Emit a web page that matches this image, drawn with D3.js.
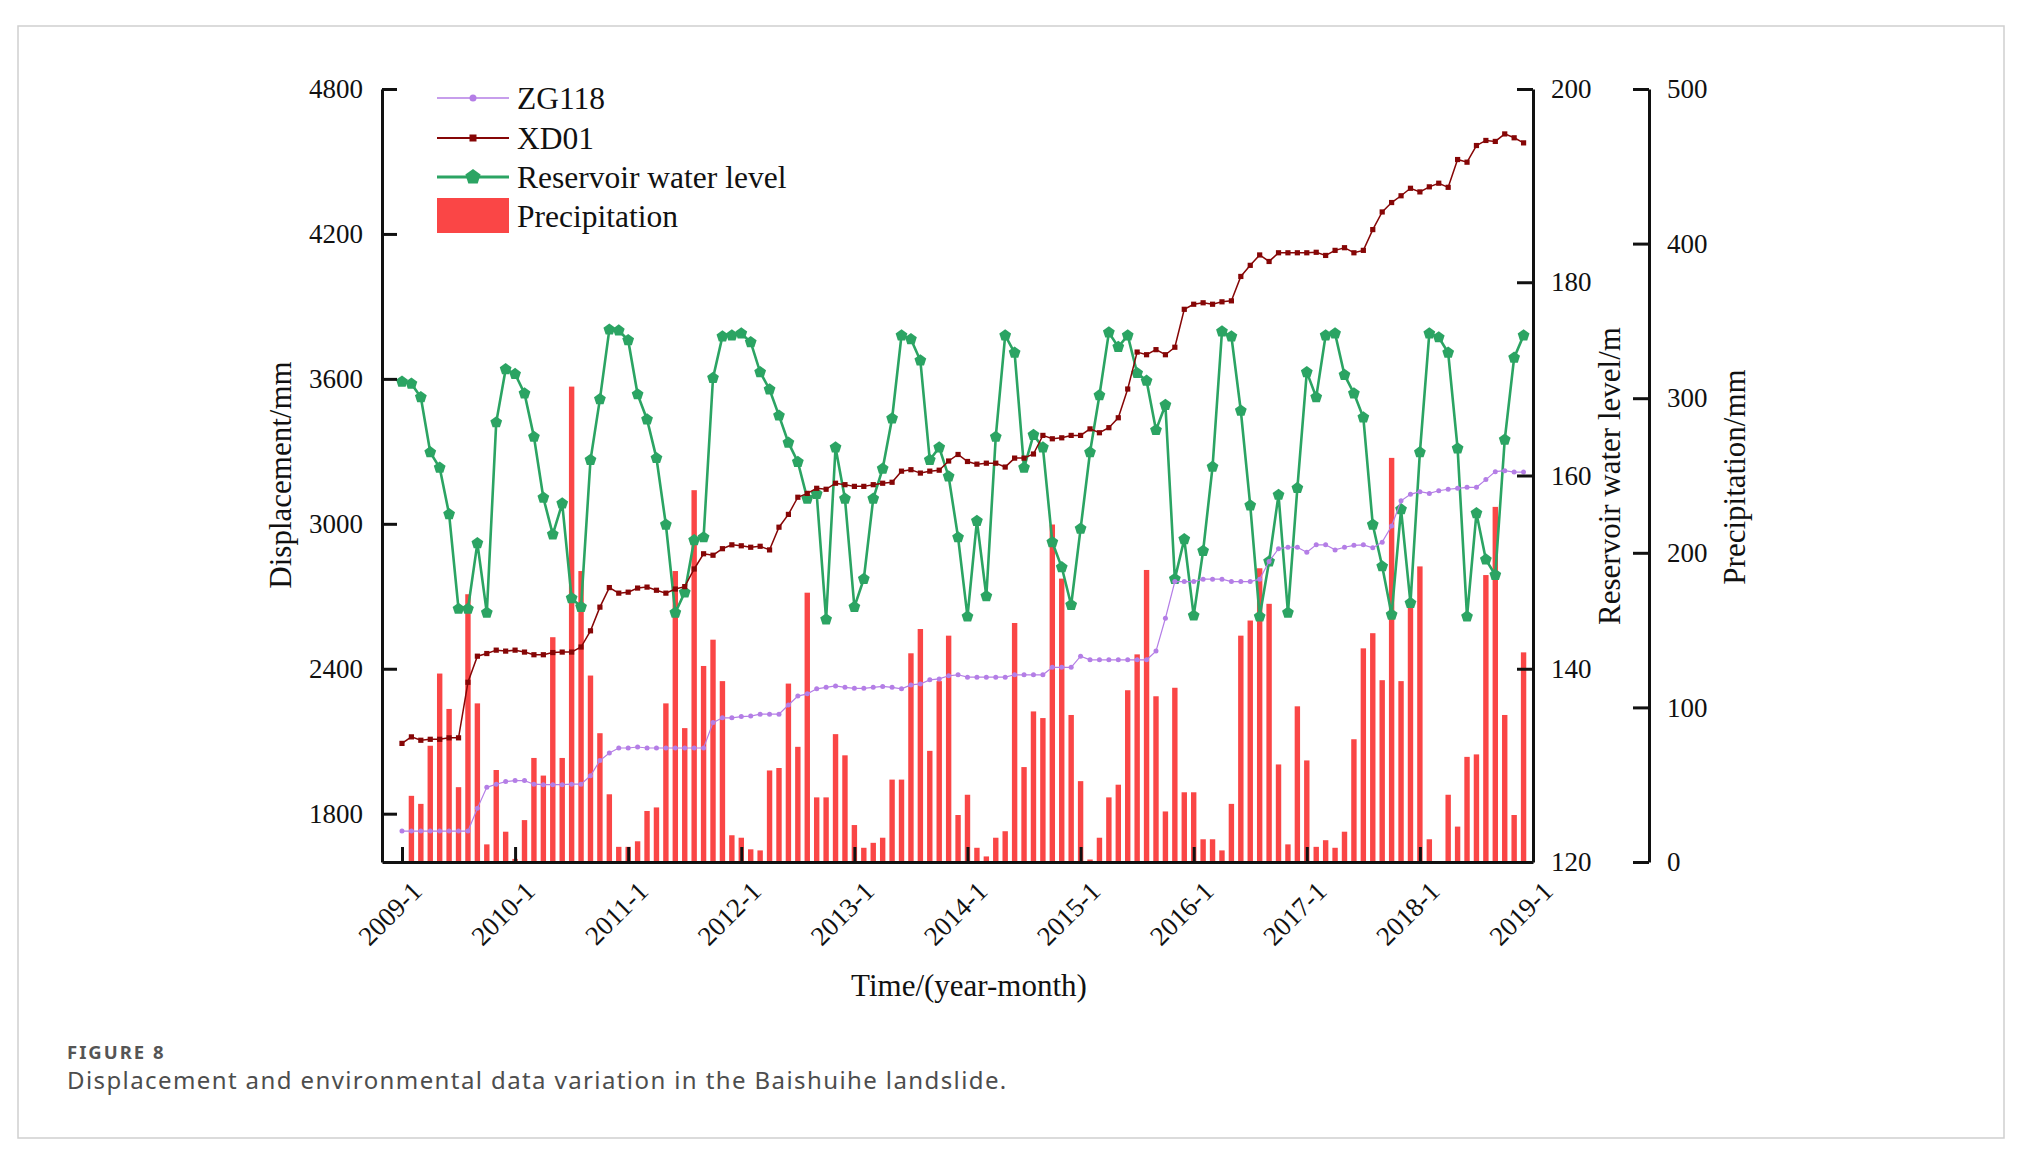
<!DOCTYPE html>
<html>
<head>
<meta charset="utf-8">
<script src="https://d3js.org/d3.v7.min.js"></script>
<style>
  body { margin: 0; background: #fff; }
  svg text { font-family: "Liberation Serif", "Times New Roman", serif; fill: #111; }
  svg .cap { font-family: "Noto Sans", "Open Sans", sans-serif; }
</style>
</head>
<body>
<svg width="2038" height="1166"></svg>
<script>
// month index 0 = 2009-1 ... 119 = 2018-12
var xTickValues = [0, 12, 24, 36, 48, 60, 72, 84, 96, 108, 120];
var xTickLabels = ["2009-1", "2010-1", "2011-1", "2012-1", "2013-1", "2014-1",
                   "2015-1", "2016-1", "2017-1", "2018-1", "2019-1"];
var dispTicks = [1800, 2400, 3000, 3600, 4200, 4800];
var levelTicks = [120, 140, 160, 180, 200];
var precTicks = [0, 100, 200, 300, 400, 500];
var legendNames = ["ZG118", "XD01", "Reservoir water level", "Precipitation"];

var zg118 = [1728,1728,1728,1728,1728,1728,1728,1728,1822,1909,1922,1933,1937,1937,1922,1920,1920,1920,1922,1922,
             1957,2020,2051,2072,2072,2076,2072,2072,2072,2072,2072,2072,2072,2177,2197,2197,2202,2204,2212,2212,
             2212,2250,2287,2296,2317,2323,2329,2323,2319,2319,2323,2327,2323,2317,2333,2337,2354,2358,2371,2375,
             2365,2365,2365,2365,2365,2375,2375,2375,2375,2406,2406,2406,2452,2437,2437,2437,2437,2437,2437,2437,
             2473,2609,2761,2761,2761,2771,2771,2771,2761,2761,2761,2771,2844,2897,2903,2903,2882,2913,2913,2892,
             2903,2911,2913,2901,2924,2991,3095,3122,3133,3126,3137,3143,3147,3151,3151,3183,3216,3220,3214,3214];

var xd01 = [2091,2118,2104,2108,2108,2114,2114,2344,2452,2463,2477,2473,2477,2469,2458,2458,2467,2469,2469,2490,
            2557,2655,2736,2713,2717,2734,2738,2725,2713,2730,2740,2813,2876,2870,2897,2913,2909,2903,2907,2892,
            2986,3039,3110,3126,3147,3143,3168,3162,3155,3155,3162,3168,3172,3218,3224,3210,3218,3222,3260,3287,
            3258,3247,3251,3251,3235,3272,3272,3289,3366,3352,3356,3366,3366,3393,3377,3398,3439,3558,3711,3700,
            3721,3700,3731,3888,3909,3915,3909,3919,3923,4024,4070,4113,4086,4122,4122,4122,4122,4124,4111,4132,
            4143,4122,4132,4218,4291,4330,4358,4389,4374,4395,4410,4393,4508,4497,4566,4587,4583,4614,4598,4577];

var waterLevel = [169.7,169.5,168.1,162.4,160.8,156.0,146.2,146.2,153.0,145.8,165.5,171.0,170.5,168.5,164.0,157.7,153.9,157.1,147.3,146.4,
                  161.6,167.9,175.1,175.0,174.0,168.4,165.8,161.8,154.9,145.8,147.9,153.3,153.6,170.1,174.4,174.5,174.7,173.8,170.7,168.9,
                  166.2,163.4,161.4,157.6,158.1,145.1,162.9,157.6,146.4,149.3,157.6,160.7,165.9,174.5,174.1,171.9,161.6,162.9,159.9,153.6,
                  145.4,155.3,147.5,164.0,174.5,172.7,160.8,164.2,162.9,153.1,150.5,146.6,154.5,162.4,168.3,174.8,173.3,174.5,170.6,169.8,
                  164.7,167.3,149.3,153.4,145.5,152.2,160.9,174.9,174.4,166.7,156.9,145.4,151.1,158.0,145.8,158.7,170.7,168.1,174.5,174.7,
                  170.4,168.5,166.0,154.9,150.6,145.6,156.5,146.8,162.4,174.7,174.3,172.7,162.8,145.4,156.1,151.3,149.7,163.7,172.2,174.5];

var precipitation = [0,42.8,37.6,75.2,121.9,99.0,48.4,173.2,102.6,11.4,59.5,19.6,2,27.1,67.3,55.9,145.4,67.3,307.5,188.2,
                     120.6,83.3,43.8,9.8,9.8,13.4,33.0,35.3,102.6,188.2,86.6,240.5,126.8,143.8,117.0,17.3,15.7,8.2,7.5,59.2,
                     60.8,115.4,74.5,174.2,41.8,41.8,82.7,69.0,23.9,9.2,12.4,15.7,53.3,53.3,135.0,150.7,71.9,117.0,146.4,30.4,
                     43.5,9.2,3.6,15.7,19.9,154.6,61.4,97.4,93.1,218.3,183.3,95.1,52.3,1.6,15.7,41.8,50.0,111.1,134.3,188.9,
                     107.2,32.7,112.7,45.1,45.1,14.7,14.7,7.5,37.6,146.4,156.2,190.0,167.0,63.1,11.4,100.7,65.7,9.8,14.1,9.2,
                     19.6,79.4,138.2,148.0,117.6,261.4,117.0,169.3,191.2,14.7,0,43.5,22.9,68.0,69.6,185.6,229.7,95.1,30.4,135.6];

var colZG = "#b47ee6", colXD = "#860606", colWL = "#2ba463", colPR = "#fa4646";

var svg = d3.select("svg");
var plotLeft = 382, plotRight = 1533, plotTop = 89, plotBottom = 862, farRight = 1649;

// figure frame
svg.append("rect").attr("x", 18).attr("y", 26).attr("width", 1986).attr("height", 1112)
   .attr("fill", "none").attr("stroke", "#cfcfcf").attr("stroke-width", 1.5);

var x = d3.scaleLinear().domain([-2.12, 120]).range([plotLeft, plotRight]);
var yDisp = d3.scaleLinear().domain([1600, 4800]).range([plotBottom, plotTop]);
var yLevel = d3.scaleLinear().domain([120, 200]).range([plotBottom, plotTop]);
var yPrec = d3.scaleLinear().domain([0, 500]).range([plotBottom, plotTop]);

// precipitation bars
svg.append("g").selectAll("rect").data(precipitation).enter().append("rect")
   .attr("x", function(d, i) { return x(i) - 2.7; })
   .attr("width", 5.4)
   .attr("y", function(d) { return yPrec(d); })
   .attr("height", function(d) { return plotBottom - yPrec(d); })
   .attr("fill", colPR);

function pentagon(cx, cy, r) {
  var pts = d3.range(5).map(function(k) {
    var a = -Math.PI / 2 + k * 2 * Math.PI / 5;
    return [cx + r * Math.cos(a), cy + r * Math.sin(a)];
  });
  return d3.line()(pts) + "Z";
}

// reservoir water level
svg.append("path").datum(waterLevel)
   .attr("d", d3.line().x(function(d, i) { return x(i); }).y(function(d) { return yLevel(d); }))
   .attr("fill", "none").attr("stroke", colWL).attr("stroke-width", 2.6);
svg.append("g").selectAll("path").data(waterLevel).enter().append("path")
   .attr("d", function(d, i) { return pentagon(x(i), yLevel(d), 6.2); })
   .attr("fill", colWL);

// XD01
svg.append("path").datum(xd01)
   .attr("d", d3.line().x(function(d, i) { return x(i); }).y(function(d) { return yDisp(d); }))
   .attr("fill", "none").attr("stroke", colXD).attr("stroke-width", 1.5);
svg.append("g").selectAll("rect").data(xd01).enter().append("rect")
   .attr("x", function(d, i) { return x(i) - 2.6; })
   .attr("y", function(d) { return yDisp(d) - 2.6; })
   .attr("width", 5.2).attr("height", 5.2)
   .attr("fill", colXD);

// ZG118
svg.append("path").datum(zg118)
   .attr("d", d3.line().x(function(d, i) { return x(i); }).y(function(d) { return yDisp(d); }))
   .attr("fill", "none").attr("stroke", colZG).attr("stroke-width", 1.2);
svg.append("g").selectAll("circle").data(zg118).enter().append("circle")
   .attr("cx", function(d, i) { return x(i); })
   .attr("cy", function(d) { return yDisp(d); })
   .attr("r", 2.5)
   .attr("fill", colZG);

// axes
function styleAxis(g) {
  g.attr("font-family", "Liberation Serif, Times New Roman, serif").attr("font-size", 27);
  g.selectAll("path, line").attr("stroke", "#111").attr("stroke-width", 3);
  g.selectAll("text").attr("fill", "#111");
}
var plain = d3.format("d");

svg.append("g").attr("transform", "translate(" + plotLeft + ",0)")
   .call(d3.axisLeft(yDisp).tickValues(dispTicks).tickFormat(plain)
         .tickSizeInner(-15).tickSizeOuter(0).tickPadding(19))
   .call(styleAxis);

svg.append("g").attr("transform", "translate(" + plotRight + ",0)")
   .call(d3.axisRight(yLevel).tickValues(levelTicks).tickFormat(plain)
         .tickSizeInner(-16).tickSizeOuter(0).tickPadding(18))
   .call(styleAxis);

svg.append("g").attr("transform", "translate(" + farRight + ",0)")
   .call(d3.axisRight(yPrec).tickValues(precTicks).tickFormat(plain)
         .tickSizeInner(-16).tickSizeOuter(0).tickPadding(18))
   .call(styleAxis);

var xAxis = svg.append("g").attr("transform", "translate(0," + plotBottom + ")")
   .call(d3.axisBottom(x).tickValues(xTickValues).tickSizeInner(-15).tickSizeOuter(0)
         .tickFormat(function(d, i) { return xTickLabels[i]; }))
   .call(styleAxis);
xAxis.selectAll("text")
   .attr("x", 0).attr("y", 0).attr("dy", 0)
   .attr("text-anchor", "end")
   .attr("transform", "translate(21,31) rotate(-45)");

// axis titles
svg.append("text").attr("transform", "translate(291,475) rotate(-90)")
   .attr("text-anchor", "middle").attr("font-size", 31).text("Displacement/mm");
svg.append("text").attr("transform", "translate(1620,476) rotate(-90)")
   .attr("text-anchor", "middle").attr("font-size", 31).text("Reservoir water level/m");
svg.append("text").attr("transform", "translate(1745,477) rotate(-90)")
   .attr("text-anchor", "middle").attr("font-size", 31).text("Precipitation/mm");
svg.append("text").attr("x", 969).attr("y", 996)
   .attr("text-anchor", "middle").attr("font-size", 31).text("Time/(year-month)");

// legend
var lg = svg.append("g");
var rowY = [98, 138, 177, 216];
lg.append("line").attr("x1", 437).attr("x2", 509).attr("y1", rowY[0]).attr("y2", rowY[0])
  .attr("stroke", colZG).attr("stroke-width", 1.5);
lg.append("circle").attr("cx", 473).attr("cy", rowY[0]).attr("r", 3.5).attr("fill", colZG);
lg.append("line").attr("x1", 437).attr("x2", 509).attr("y1", rowY[1]).attr("y2", rowY[1])
  .attr("stroke", colXD).attr("stroke-width", 1.8);
lg.append("rect").attr("x", 469.5).attr("y", rowY[1] - 3.5).attr("width", 7).attr("height", 7).attr("fill", colXD);
lg.append("line").attr("x1", 437).attr("x2", 509).attr("y1", rowY[2]).attr("y2", rowY[2])
  .attr("stroke", colWL).attr("stroke-width", 2.8);
lg.append("path").attr("d", pentagon(473, rowY[2], 8)).attr("fill", colWL);
lg.append("rect").attr("x", 437).attr("y", 198).attr("width", 72).attr("height", 35).attr("fill", colPR);
lg.selectAll("text.lg").data(legendNames).enter().append("text")
  .attr("x", 517).attr("y", function(d, i) { return rowY[i] + 11; })
  .attr("font-size", 31.5).text(function(d) { return d; });

// caption
svg.append("text").attr("class", "cap").attr("x", 67).attr("y", 1059)
   .attr("font-size", 18.5).attr("font-weight", "bold").attr("letter-spacing", 2)
   .style("fill", "#555").text("FIGURE 8");
svg.append("text").attr("class", "cap").attr("x", 67).attr("y", 1089)
   .attr("font-size", 24).attr("letter-spacing", 1.4)
   .style("fill", "#4d4d4d").text("Displacement and environmental data variation in the Baishuihe landslide.");
</script>
</body>
</html>
